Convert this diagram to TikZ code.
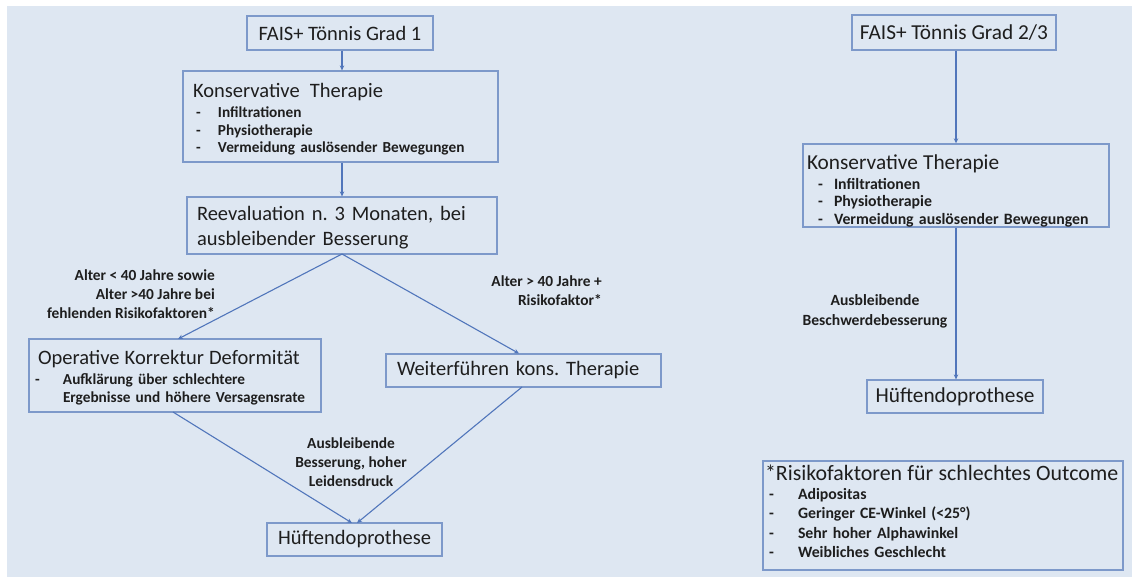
\documentclass[tikz,border=0pt]{standalone}
\usepackage{fontspec}
\setmainfont{Carlito}
\usetikzlibrary{arrows.meta}
\setlength{\parindent}{0pt}
\frenchspacing
\definecolor{bg}{HTML}{DEE7F2}
\definecolor{bord}{HTML}{7D99CA}
\definecolor{conn}{HTML}{5176BB}
\definecolor{txt}{HTML}{1E1E1E}
\newcommand\tfa{\mdseries\fontsize{20.5}{25}\selectfont}
\newcommand\tfb{\mdseries\fontsize{21.3}{25}\selectfont}
\newcommand\smfa{\bfseries\fontsize{15.3}{17.5}\selectfont}
\newcommand\smfb{\bfseries\fontsize{15.8}{17.5}\selectfont}
\newcommand\smfc{\bfseries\fontsize{15.8}{19.5}\selectfont}
\newcommand\lblf{\bfseries\fontsize{15.4}{19}\selectfont}
\newcommand\itm[3]{\makebox[#2][l]{\hspace*{#1}-}#3}
\newcommand\up[1]{\rule{0pt}{#1}}
\newcommand\dn[1]{\rule[-#1]{0pt}{#1}}
\begin{document}
\begin{tikzpicture}[x=1pt,y=-1pt,
  box/.style={draw=bord, line width=1.2pt, text=txt, inner ysep=0pt, inner xsep=0pt},
  lbl/.style={text=txt, font=\lblf, inner sep=0pt},
  conn/.style={draw=conn, line width=1.1pt, -{Stealth[length=5pt,width=4.5pt]}}]
\useasboundingbox (0,0) rectangle (1132,577);
\fill[white] (0,0) rectangle (1132,577);
\fill[bg] (7,6) rectangle (1132,577);

% left column
\node[box, minimum width=186pt, minimum height=34pt, font=\tfa] (f1) at (340,33) {FAIS+ Tönnis Grad 1};
\node[box, inner xsep=10pt, text width=295pt, minimum height=91pt, align=left, font=\smfa] (k1) at (340.5,116.5)
  {{\tfa\up{20pt}Konservative\ \ Therapie\par}\vspace{3pt}\itm{3pt}{25pt}{Infiltrationen}\par\itm{3pt}{25pt}{Physiotherapie}\par\itm{3pt}{25pt}{Vermeidung auslösender Bewegungen}};
\node[box, inner xsep=10pt, text width=290pt, minimum height=57pt, align=left, font=\tfa] (r1) at (342,225.5)
  {\up{19pt}Reevaluation n. 3 Monaten, bei\\ausbleibender Besserung};
\node[box, inner xsep=9pt, text width=274pt, minimum height=73pt, align=left, font=\smfa] (op) at (175,375.5)
  {{\tfa\up{19pt}Operative Korrektur Deformität\par}\vspace{2pt}\fontsize{15.3}{18}\selectfont\itm{-3pt}{25pt}{Aufklärung über schlechtere}\par\hspace*{25pt}Ergebnisse und höhere Versagensrate};
\node[box, inner xsep=11pt, text width=253pt, minimum height=33pt, align=left, font=\tfa] (we) at (523.5,370.5)
  {Weiterführen kons. Therapie};
\node[box, minimum width=175pt, minimum height=33pt, font=\tfa] (h1) at (354.5,539.5) {Hüftendoprothese};

\node[lbl, anchor=east, align=right] (la) at (215,294) {Alter < 40 Jahre sowie\\Alter >40 Jahre bei\\fehlenden Risikofaktoren*};
\node[lbl, anchor=east, align=right] (lb) at (602,291) {Alter > 40 Jahre +\\Risikofaktor*};
\node[lbl, align=center] (lc) at (351,462) {Ausbleibende\\Besserung, hoher\\Leidensdruck};

\coordinate (r1s) at (342,254);
\coordinate (opn) at (178,339);
\coordinate (wen) at (519,353.5);
\coordinate (ops) at (173,412);
\coordinate (wes) at (522,387);
\coordinate (h1a) at (352,523);
\coordinate (h1b) at (357,523);
\draw[conn] (f1.south -| 342,0) -- (k1.north -| 342,0);
\draw[conn] (k1.south -| 342,0) -- (r1.north -| 342,0);
\draw[conn] (r1s) -- (opn);
\draw[conn] (r1s) -- (wen);
\draw[conn] (ops) -- (h1a);
\draw[conn] (wes) -- (h1b);

% right column
\node[box, minimum width=204pt, minimum height=35pt, font=\tfb] (f2) at (954,32.5) {FAIS+ Tönnis Grad 2/3};
\node[box, inner xsep=4pt, text width=298pt, minimum height=83pt, align=left, font=\smfb] (k2) at (956,185.5)
  {{\tfb\up{26pt}Konservative Therapie\par}\vspace{2pt}\itm{11pt}{27pt}{Infiltrationen}\par\itm{11pt}{27pt}{Physiotherapie}\par\itm{11pt}{27pt}{Vermeidung auslösender Bewegungen}};
\node[box, minimum width=176pt, minimum height=33pt, font=\tfb] (h2) at (955,396.5) {Hüftendoprothese};
\node[lbl, align=center, font=\bfseries\fontsize{15.6}{20}\selectfont] (ld) at (875,311) {Ausbleibende\\Beschwerdebesserung};
\node[box, inner xsep=2pt, text width=356pt, minimum height=109pt, align=left, font=\smfc] (rk) at (943,515.5)
  {{\mdseries\fontsize{21.9}{25}\selectfont *Risikofaktoren für schlechtes Outcome\par}\vspace{-1pt}\itm{4pt}{33pt}{Adipositas}\par\itm{4pt}{33pt}{Geringer CE-Winkel (<25°)}\par\itm{4pt}{33pt}{Sehr hoher Alphawinkel}\par\itm{4pt}{33pt}{Weibliches Geschlecht}\dn{8pt}};

\draw[conn] (f2.south -| 956,0) -- (k2.north -| 956,0);
\draw[conn] (k2.south -| 956,0) -- (h2.north -| 956,0);
\end{tikzpicture}
\end{document}
